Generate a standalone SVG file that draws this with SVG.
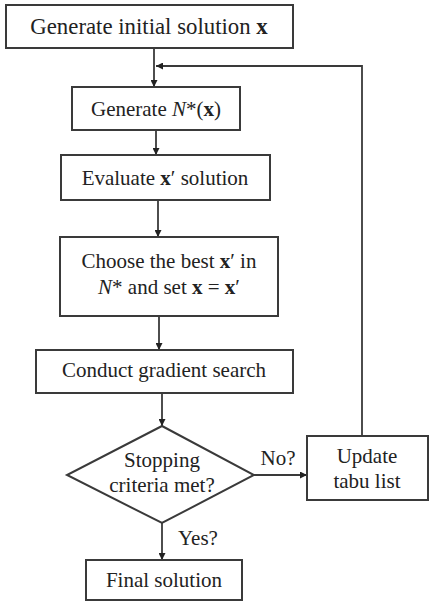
<svg xmlns="http://www.w3.org/2000/svg" width="431" height="603" viewBox="0 0 431 603">
<style>
.box{fill:#fff;stroke:#3a3a3a;stroke-width:2}
.t{font-family:"Liberation Serif","Times New Roman",serif;font-size:21px;fill:#222;text-anchor:middle}
.c{fill:none;stroke:#3a3a3a;stroke-width:1.8}
.b{font-weight:bold}
.i{font-style:italic}
</style>
<defs>
<marker id="ah" viewBox="0 0 10 10" refX="10" refY="5" markerWidth="9" markerHeight="7" markerUnits="userSpaceOnUse" orient="auto">
<path d="M0,0 L10,5 L0,10 z" fill="#222"/>
</marker>
</defs>
<rect width="431" height="603" fill="#fff"/>
<g id="connectors">
<line class="c" x1="154" y1="48" x2="154" y2="87" marker-end="url(#ah)"/>
<polyline class="c" points="362,436 362,66 156,66" marker-end="url(#ah)"/>
<line class="c" x1="156" y1="130" x2="156" y2="155" marker-end="url(#ah)"/>
<line class="c" x1="158" y1="200" x2="158" y2="237" marker-end="url(#ah)"/>
<line class="c" x1="159" y1="316" x2="159" y2="350" marker-end="url(#ah)"/>
<line class="c" x1="162" y1="393" x2="162" y2="426" marker-end="url(#ah)"/>
<line class="c" x1="254" y1="475" x2="307" y2="475" marker-end="url(#ah)"/>
<line class="c" x1="162" y1="523" x2="162" y2="560" marker-end="url(#ah)"/>
<text class="t" x="278" y="465">No?</text>
<text class="t" x="198" y="545">Yes?</text>
</g>
<g id="n1">
<rect class="box" x="6" y="5" width="287" height="43"/>
<text class="t" x="149" y="34" style="font-size:22.8px">Generate initial solution <tspan class="b">x</tspan></text>
</g>
<g id="n2">
<rect class="box" x="72" y="87" width="168" height="43"/>
<text class="t" x="156" y="116">Generate <tspan class="i">N</tspan>*(<tspan class="b">x</tspan>)</text>
</g>
<g id="n3">
<rect class="box" x="61" y="155" width="209" height="45"/>
<text class="t" x="165" y="185">Evaluate <tspan class="b">x</tspan>′ solution</text>
</g>
<g id="n4">
<rect class="box" x="60" y="237" width="218" height="79"/>
<text class="t" x="169" y="268">Choose the best <tspan class="b">x</tspan>′ in</text>
<text class="t" x="169" y="294"><tspan class="i">N</tspan>* and set <tspan class="b">x</tspan> = <tspan class="b">x</tspan>′</text>
</g>
<g id="n5">
<rect class="box" x="36" y="350" width="257" height="43"/>
<text class="t" x="164" y="377">Conduct gradient search</text>
</g>
<g id="n6">
<polygon class="box" points="162,426 254,475 162,523 67,475"/>
<text class="t" x="162" y="467">Stopping</text>
<text class="t" x="162" y="492">criteria met?</text>
</g>
<g id="n7">
<rect class="box" x="307" y="436" width="121" height="64"/>
<text class="t" x="367" y="463">Update</text>
<text class="t" x="367" y="488">tabu list</text>
</g>
<g id="n8">
<rect class="box" x="86" y="560" width="156" height="40"/>
<text class="t" x="164" y="587">Final solution</text>
</g>
</svg>
